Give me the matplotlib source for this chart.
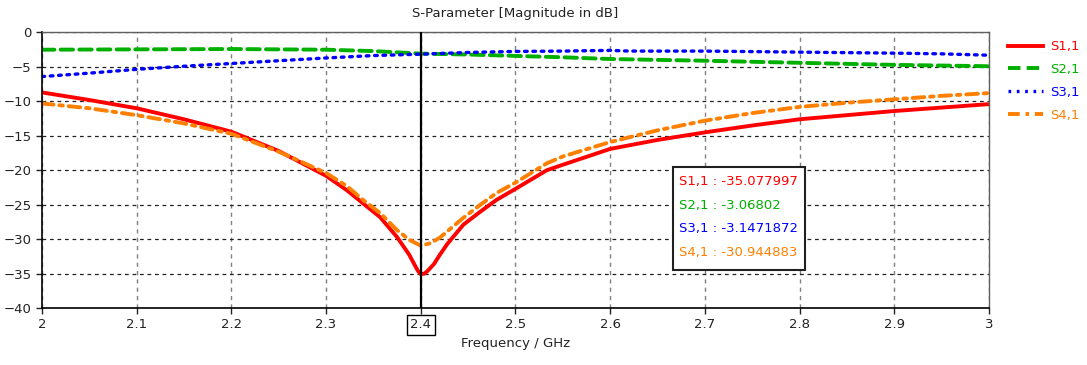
import matplotlib
matplotlib.use("Agg")
import matplotlib.pyplot as plt
from matplotlib.lines import Line2D
from matplotlib.patches import Rectangle

plt.rcParams['font.family'] = ['DejaVu Sans']
plt.rcParams['font.size'] = 9.5

# S-parameter traces (dB) read along frequency in GHz
f_s11 = [2.0, 2.05, 2.1, 2.15, 2.2, 2.25, 2.3, 2.322, 2.339, 2.357, 2.375, 2.388, 2.393,
         2.397, 2.4, 2.404, 2.408, 2.414, 2.42, 2.428, 2.445, 2.463, 2.48, 2.5, 2.533,
         2.55, 2.6, 2.65, 2.7, 2.75, 2.8, 2.85, 2.9, 2.95, 3.0]
s11 = [-8.7, -9.8, -11.0, -12.6, -14.4, -17.2, -20.8, -22.9, -24.8, -26.8, -29.7,
       -32.3, -33.6, -34.6, -35.077997, -35.0, -34.5, -33.6, -32.3, -30.7, -27.9,
       -26.0, -24.3, -22.7, -20.0, -19.2, -16.9, -15.6, -14.5, -13.5, -12.6, -12.0,
       -11.4, -10.9, -10.4]

f_s21 = [2.0, 2.1, 2.2, 2.3, 2.35, 2.4, 2.45, 2.5, 2.55, 2.6, 2.7, 2.8, 2.9, 3.0]
s21 = [-2.5, -2.45, -2.4, -2.5, -2.7, -3.06802, -3.2, -3.4, -3.6, -3.85, -4.1,
       -4.4, -4.7, -4.9]

f_s31 = [2.0, 2.05, 2.1, 2.15, 2.2, 2.25, 2.3, 2.35, 2.4, 2.45, 2.5, 2.55, 2.6,
         2.62, 2.7, 2.8, 2.9, 2.95, 3.0]
s31 = [-6.4, -5.9, -5.35, -4.9, -4.5, -4.1, -3.7, -3.35, -3.1471872, -2.9, -2.75,
       -2.7, -2.6, -2.7, -2.7, -2.85, -3.0, -3.1, -3.3]

f_s41 = [2.0, 2.05, 2.1, 2.15, 2.2, 2.25, 2.3, 2.322, 2.339, 2.357, 2.375, 2.388, 2.4,
         2.41, 2.42, 2.445, 2.463, 2.48, 2.5, 2.533, 2.55, 2.6, 2.65, 2.7, 2.75,
         2.8, 2.85, 2.9, 2.95, 3.0]
s41 = [-10.3, -11.0, -12.0, -13.2, -14.7, -17.3, -20.4, -22.3, -24.3, -26.2, -28.7,
       -30.1, -30.944883, -30.6, -29.8, -26.9, -25.0, -23.3, -21.8, -19.0, -18.0,
       -15.9, -14.2, -12.8, -11.7, -10.8, -10.2, -9.7, -9.2, -8.8]

names = ["S1,1", "S2,1", "S3,1", "S4,1"]
colors = ["#ff0000", "#00b000", "#0000ff", "#ff8000"]
marker_f = 2.4
marker_txt = ["-35.077997", "-3.06802", "-3.1471872", "-30.944883"]

xticks = [2.0, 2.1, 2.2, 2.3, 2.4, 2.5, 2.6, 2.7, 2.8, 2.9, 3.0]
xticklabels = ["2", "2.1", "2.2", "2.3", "2.4", "2.5", "2.6", "2.7", "2.8", "2.9", "3"]
yticks = [0, -5, -10, -15, -20, -25, -30, -35, -40]

fig = plt.figure(figsize=(10.87, 3.65), dpi=100)
ax = fig.add_axes([0.0386, 0.156, 0.8712, 0.755])

styles = [
    dict(linestyle="-", linewidth=2.8),
    dict(linestyle=(0, (3.2, 1.6)), linewidth=2.8),
    dict(linestyle=(0, (0.8, 1.7)), linewidth=2.4),
    dict(linestyle=(0, (3.0, 1.5, 0.9, 1.5)), linewidth=2.8),
]
series = [(f_s11, s11), (f_s21, s21), (f_s31, s31), (f_s41, s41)]
for (fx, fy), c, st in zip(series, colors, styles):
    ax.plot(fx, fy, color=c, solid_capstyle="butt", dash_capstyle="round",
            solid_joinstyle="round", **st)

ax.set_xlim(2.0, 3.0)
ax.set_ylim(-40, 0)
ax.set_xticks(xticks)
ax.set_xticklabels(xticklabels)
ax.set_yticks(yticks)
ax.tick_params(direction="out", length=4, width=1, colors="#222222", labelsize=9.5)

ax.xaxis.grid(True, color="#808080", linestyle=(0, (3, 3)), linewidth=1)
ax.yaxis.grid(True, color="#202020", linestyle=(0, (3, 3)), linewidth=0.9)
ax.set_axisbelow(True)

for side in ["left", "bottom"]:
    ax.spines[side].set_color("#000000")
    ax.spines[side].set_linewidth(1.2)
for side in ["top", "right"]:
    ax.spines[side].set_color("#606060")
    ax.spines[side].set_linewidth(1.0)

# marker line and its boxed tick label
ax.axvline(marker_f, color="black", linewidth=1.6, zorder=5)
lbl = ax.get_xticklabels()[xticks.index(marker_f)]
lbl.set_bbox(dict(facecolor="white", edgecolor="black", boxstyle="square,pad=0.25", linewidth=1))

# marker readout box
ax.add_patch(Rectangle((2.666, -34.5), 0.14, 15.0, facecolor="white",
                       edgecolor="#202020", linewidth=1.5, zorder=6))
for i, (n, c, t) in enumerate(zip(names, colors, marker_txt)):
    ax.text(2.673, -21.7 - i * 3.4, f"{n} : {t}", color=c, fontsize=9.5,
            va="center", ha="left", zorder=7)

ax.set_title("S-Parameter [Magnitude in dB]", fontsize=9.5, color="#222222", pad=11)
ax.set_xlabel("Frequency / GHz", fontsize=9.5, color="#222222", labelpad=4)

handles = [Line2D([], [], color=c, **st) for c, st in zip(colors, styles)]
leg = fig.legend(handles, names, loc="upper left", bbox_to_anchor=(0.927, 0.89),
                 frameon=False, handlelength=2.7, handletextpad=0.5,
                 labelspacing=0.75, fontsize=9.5, borderpad=0, borderaxespad=0)
for txt, c in zip(leg.get_texts(), colors):
    txt.set_color(c)

fig.savefig("out.png", dpi=100)
